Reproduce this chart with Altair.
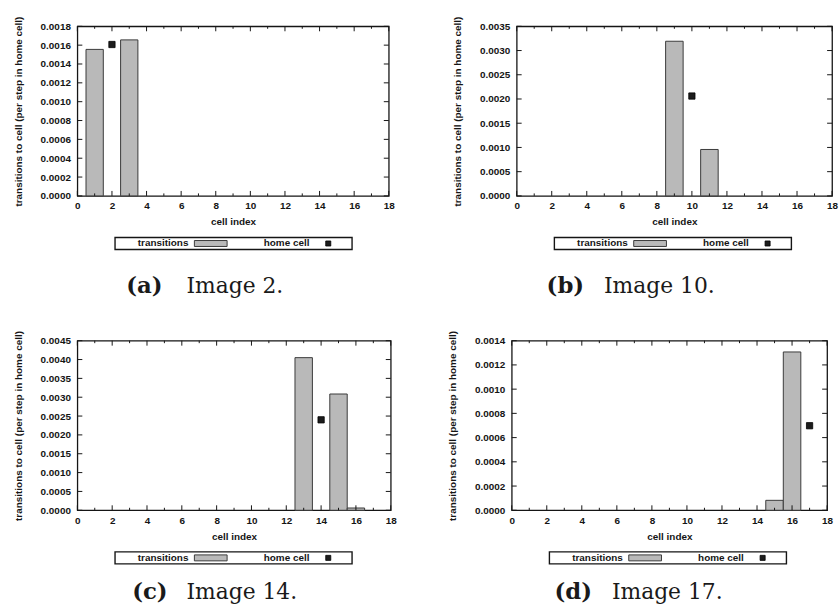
import altair as alt
import pandas as pd

# ---- shared styling -------------------------------------------------------
SANS = "Liberation Sans"
SERIF = "DejaVu Serif"
INK = "#151515"
BAR_FILL = "#b9b9b9"
BAR_EDGE = "#3a3a3a"
MARK_FILL = "#1c1c1c"
PLOT_H = 171

# ---- data -----------------------------------------------------------------
x_major = [0, 2, 4, 6, 8, 10, 12, 14, 16, 18]
x_minor = [1, 3, 5, 7, 9, 11, 13, 15, 17]

tags = ["(a)", "(b)", "(c)", "(d)"]
captions = ["Image 2.", "Image 10.", "Image 14.", "Image 17."]
legend_labels = ["transitions", "home cell"]

bar_cells = [[1, 3], [9, 11], [13, 15, 16], [15, 16]]
bar_values = [
    [0.001555, 0.001656],
    [0.003192, 0.000958],
    [0.004050, 0.003085, 0.000060],
    [0.000082, 0.001307],
]
home_cells = [2, 10, 14, 17]
home_values = [0.001607, 0.002061, 0.002400, 0.000698]

y_ticks = [
    [0.0, 0.0002, 0.0004, 0.0006, 0.0008, 0.0010, 0.0012, 0.0014, 0.0016, 0.0018],
    [0.0, 0.0005, 0.0010, 0.0015, 0.0020, 0.0025, 0.0030, 0.0035],
    [0.0, 0.0005, 0.0010, 0.0015, 0.0020, 0.0025, 0.0030, 0.0035, 0.0040, 0.0045],
    [0.0, 0.0002, 0.0004, 0.0006, 0.0008, 0.0010, 0.0012, 0.0014],
]

# ---- per-panel layout (pixels, relative to each plot area) ----------------
plot_widths = [314, 318, 316, 318]
tag_right = [86, 68, 91, 81]        # right edge of the bold sub-label
caption_left = [110, 88, 110, 101]  # left edge of the caption text
caption_base = [269, 269, 260, 260]  # caption baseline below plot top


def panel(i):
    W, H = plot_widths[i], PLOT_H
    xs = alt.Scale(domain=[0, 18], nice=False, zero=False)
    ys = alt.Scale(domain=[0, y_ticks[i][-1]], nice=False, zero=True)

    # identical axis definitions on every layer so that they merge into one
    x_axis = alt.Axis(values=x_major, format="d", title="cell index",
                      labelPadding=5, titlePadding=6)
    y_axis = alt.Axis(values=y_ticks[i], format=".4f",
                      title="transitions to cell (per step in home cell)",
                      labelPadding=7, titlePadding=17)

    def X(field):
        return alt.X(field, scale=xs, axis=x_axis)

    def Y(field):
        return alt.Y(field, scale=ys, axis=y_axis)

    bars_df = pd.DataFrame({"cell": bar_cells[i], "value": bar_values[i]})
    home_df = pd.DataFrame({"cell": [home_cells[i]], "value": [home_values[i]]})

    bars = (
        alt.Chart(bars_df)
        .transform_calculate(lo="datum.cell - 0.5", hi="datum.cell + 0.5")
        .mark_rect(fill=BAR_FILL, stroke=BAR_EDGE, strokeWidth=1)
        .encode(x=X("lo:Q"), x2="hi:Q", y=Y("value:Q"), y2=alt.datum(0))
    )

    home = (
        alt.Chart(home_df)
        .mark_square(size=40, fill=MARK_FILL, stroke="#000", strokeWidth=0.8, opacity=1)
        .encode(x=X("cell:Q"), y=Y("value:Q"))
    )

    # inward tick marks, mirrored on the top and right borders
    def x_ticks(values, length):
        base = alt.Chart(pd.DataFrame({"t": values})).mark_rule(color=INK, strokeWidth=1)
        return [
            base.encode(x=X("t:Q"), y=alt.value(H), y2=alt.value(H - length)),
            base.encode(x=X("t:Q"), y=alt.value(0), y2=alt.value(length)),
        ]

    def y_tick_marks(values, length):
        base = alt.Chart(pd.DataFrame({"t": values})).mark_rule(color=INK, strokeWidth=1)
        return [
            base.encode(y=Y("t:Q"), x=alt.value(0), x2=alt.value(length)),
            base.encode(y=Y("t:Q"), x=alt.value(W), x2=alt.value(W - length)),
        ]

    ticks = x_ticks(x_major, 5) + x_ticks(x_minor, 2.5) + y_tick_marks(y_ticks[i], 5)

    # boxed key below the plot: label first, sample to its right
    ly = H + 48
    key_df = pd.DataFrame({"a": [legend_labels[0]], "b": [legend_labels[1]]})
    key = alt.Chart(key_df)
    key_layers = [
        key.mark_rect(fill="white", stroke=INK, strokeWidth=1.4).encode(
            x=alt.value(38), x2=alt.value(277), y=alt.value(H + 42), y2=alt.value(H + 54)),
        key.mark_text(align="right", baseline="middle", font=SANS, fontSize=10,
                      fontWeight="bold", color=INK).encode(
            x=alt.value(112), y=alt.value(ly), text="a:N"),
        key.mark_rect(fill=BAR_FILL, stroke=BAR_EDGE, strokeWidth=1).encode(
            x=alt.value(118), x2=alt.value(151), y=alt.value(ly - 3), y2=alt.value(ly + 3)),
        key.mark_text(align="right", baseline="middle", font=SANS, fontSize=10,
                      fontWeight="bold", color=INK).encode(
            x=alt.value(234), y=alt.value(ly), text="b:N"),
        key.mark_square(size=26, fill=MARK_FILL, stroke="#000", strokeWidth=0.8, opacity=1).encode(
            x=alt.value(253), y=alt.value(ly)),
    ]

    cap_df = pd.DataFrame({"tag": [tags[i]], "caption": [captions[i]]})
    cap = alt.Chart(cap_df)
    cap_layers = [
        cap.mark_text(align="right", baseline="alphabetic", font=SERIF, fontSize=23,
                      fontWeight="bold", color="#1a1a1a").encode(
            x=alt.value(tag_right[i]), y=alt.value(caption_base[i]), text="tag:N"),
        cap.mark_text(align="left", baseline="alphabetic", font=SERIF, fontSize=22,
                      color="#1a1a1a").encode(
            x=alt.value(caption_left[i]), y=alt.value(caption_base[i]), text="caption:N"),
    ]

    return alt.layer(bars, *ticks, home, *key_layers, *cap_layers).properties(
        width=W, height=H)


row1 = alt.hconcat(panel(0), panel(1), spacing=56)
row2 = alt.hconcat(panel(2), panel(3), spacing=49)

chart = (
    alt.vconcat(row1, row2, spacing=30)
    .properties(padding={"left": 12, "top": 12, "right": 0, "bottom": 0},
                background="white")
    .configure_view(stroke=INK, strokeWidth=1.3)
    .configure_axis(
        labelFont=SANS, labelFontSize=10, labelFontWeight="bold", labelColor=INK,
        titleFont=SANS, titleFontSize=10, titleFontWeight="bold", titleColor=INK,
        ticks=False, tickSize=0, domain=False, grid=False,
        labelFlush=False, labelOverlap=False,
    )
)

chart.save("out.html", embed_options={"renderer": "svg", "actions": False})
